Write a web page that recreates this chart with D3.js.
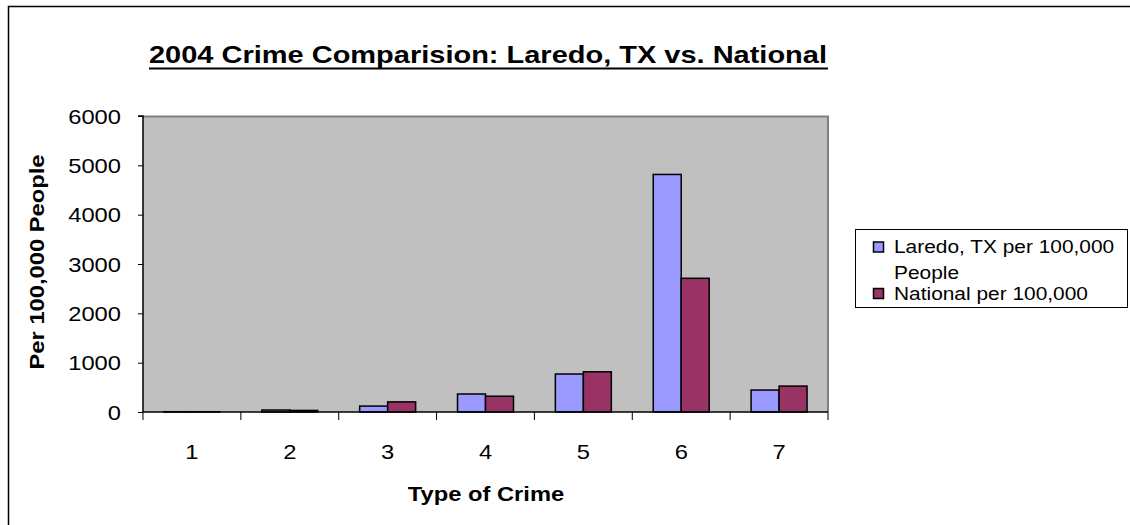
<!DOCTYPE html>
<html>
<head>
<meta charset="utf-8">
<script src="https://cdn.jsdelivr.net/npm/d3@7"></script>
<style>
  html, body { margin: 0; padding: 0; background: #fff; }
  svg { display: block; font-family: "Liberation Sans", Arial, sans-serif; }
</style>
</head>
<body>
<svg id="chart" width="1130" height="525"></svg>
<script>
// ---- data ----
const categories = ["1", "2", "3", "4", "5", "6", "7"];
const seriesNames = ["Laredo, TX per 100,000 People", "National per 100,000"];
const laredo = [6, 40, 120, 365, 770, 4815, 445];
const national = [5.5, 32, 205, 320, 815, 2710, 525];
const yTicks = [0, 1000, 2000, 3000, 4000, 5000, 6000];
const colors = ["#9999FF", "#993366"];

const SX = 1.13; // horizontal stretch of the reference's text
const svg = d3.select("#chart");

function addText(parent, x, y, str, size, opts = {}) {
  const g = parent.append("g").attr("transform", `translate(${x},${y})${opts.rotate ? " rotate(" + opts.rotate + ")" : ""} scale(${SX},1)`);
  const t = g.append("text").attr("x", 0).attr("y", 0)
    .attr("font-size", size).attr("fill", "#000")
    .attr("text-anchor", opts.anchor || "start")
    .text(str);
  if (opts.bold) t.attr("font-weight", "bold");
  return t;
}

// outer chart border (extends past the window on right/bottom)
svg.append("rect").attr("x", 8.5).attr("y", 6.5).attr("width", 1200).attr("height", 600)
  .attr("fill", "none").attr("stroke", "#000").attr("stroke-width", 1.5);

const plot = { left: 143, right: 828, top: 116, bottom: 412 };

const x0 = d3.scaleBand().domain(categories)
  .range([plot.left, plot.right]).paddingInner(0.428).paddingOuter(0.214);
const x1 = d3.scaleBand().domain([0, 1]).range([0, x0.bandwidth()]);
const y = d3.scaleLinear().domain([0, 6000]).range([plot.bottom, plot.top]);

// plot area
svg.append("rect").attr("x", plot.left).attr("y", plot.top)
  .attr("width", plot.right - plot.left).attr("height", plot.bottom - plot.top)
  .attr("fill", "#C0C0C0");
svg.append("path")
  .attr("d", `M${plot.left},${plot.top + 0.5}H${plot.right}V${plot.bottom}`)
  .attr("fill", "none").attr("stroke", "#808080").attr("stroke-width", 2);

// bars
const rows = categories.map((c, i) => ({ c, vals: [laredo[i], national[i]] }));
const g = svg.append("g");
rows.forEach(r => {
  r.vals.forEach((v, s) => {
    g.append("rect")
      .attr("x", x0(r.c) + x1(s))
      .attr("y", y(v))
      .attr("width", x1.bandwidth())
      .attr("height", plot.bottom - y(v))
      .attr("fill", colors[s])
      .attr("stroke", "#000")
      .attr("stroke-width", 1.5);
  });
});

// y axis (ticks from d3 axis, labels drawn stretched)
const yAxis = d3.axisLeft(y).tickValues(yTicks).tickSize(5).tickFormat("");
const ya = svg.append("g").attr("transform", `translate(${plot.left},0)`).call(yAxis);
ya.select(".domain").attr("stroke", "#000").attr("stroke-width", 1.5).attr("d", `M-5,${plot.top}H0V${plot.bottom}`);
ya.selectAll(".tick line").attr("stroke", "#000");
yTicks.forEach(v => addText(svg, 121, y(v) + 7.5, d3.format("d")(v), 21, { anchor: "end" }));

// x axis
const xa = svg.append("g");
xa.append("line").attr("x1", plot.left).attr("x2", plot.right)
  .attr("y1", plot.bottom).attr("y2", plot.bottom).attr("stroke", "#000").attr("stroke-width", 1.5);
const step = x0.step();
const bounds = categories.map(c => x0(c) - (step - x0.bandwidth()) / 2);
bounds.push(bounds[bounds.length - 1] + step);
bounds.forEach(b => {
  xa.append("line").attr("x1", b).attr("x2", b).attr("y1", plot.bottom).attr("y2", plot.bottom + 8)
    .attr("stroke", "#000").attr("stroke-width", 1);
});
categories.forEach(c => addText(xa, x0(c) + x0.bandwidth() / 2, 459, c, 21, { anchor: "middle" }));

// axis titles
addText(svg, 486, 501, "Type of Crime", 21, { anchor: "middle", bold: true });
addText(svg, 44, 262, "Per 100,000 People", 21, { anchor: "middle", bold: true, rotate: -90 });

// title
svg.append("text").attr("x", 149).attr("y", 63)
  .attr("font-size", 24).attr("font-weight", "bold")
  .attr("textLength", 678).attr("lengthAdjust", "spacingAndGlyphs")
  .text("2004 Crime Comparision: Laredo, TX vs. National");
svg.append("line").attr("x1", 149).attr("x2", 828).attr("y1", 68.5).attr("y2", 68.5)
  .attr("stroke", "#000").attr("stroke-width", 2);

// legend
const lg = svg.append("g");
lg.append("rect").attr("x", 855.5).attr("y", 229.5).attr("width", 272).attr("height", 78)
  .attr("fill", "#fff").attr("stroke", "#000").attr("stroke-width", 1);
const legendRows = [
  { s: 0, lines: ["Laredo, TX per 100,000", "People"], base: [252.5, 279], sw: 242 },
  { s: 1, lines: ["National per 100,000"], base: [300], sw: 288.5 }
];
legendRows.forEach(r => {
  lg.append("rect").attr("x", 873.5).attr("y", r.sw).attr("width", 10).attr("height", 10)
    .attr("fill", colors[r.s]).attr("stroke", "#000").attr("stroke-width", 1.5);
  r.lines.forEach((t, k) => addText(lg, 894, r.base[k], t, 18.5));
});
</script>
</body>
</html>
